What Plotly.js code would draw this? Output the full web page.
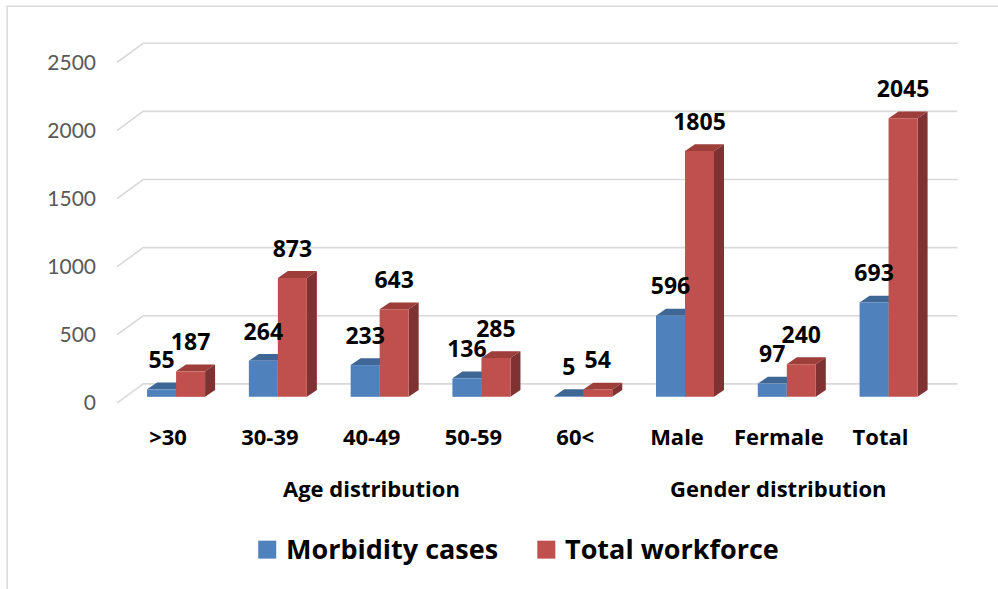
<!DOCTYPE html>
<html>
<head>
<meta charset="utf-8">
<script src="https://cdn.plot.ly/plotly-3.0.1.min.js"></script>
<style>html,body{margin:0;padding:0;background:#fff;}#chart{width:998px;height:589px;}</style>
</head>
<body>
<div id="chart"></div>
<script>
// ---- data ----
const categories = ['>30', '30-39', '40-49', '50-59', '60<', 'Male', 'Fermale', 'Total'];
const morbidity = [55, 264, 233, 136, 5, 596, 97, 693];
const workforce = [187, 873, 643, 285, 54, 1805, 240, 2045];
const seriesNames = ['Morbidity cases', 'Total workforce'];
const groupLabels = ['Age distribution', 'Gender distribution'];
const groupStart = [0, 5];
const groupEnd = [4, 7];
const yTicks = [0, 500, 1000, 1500, 2000, 2500];

// ---- geometry / style ----
const W = 998, H = 589;
const PXC = 101.75;      // px per category
const PXU = 0.1364;      // px per value unit
const xr = [-0.6, 7.8], yr = [-60, 2700];
const ml = 117 - (-0.5 - xr[0]) * PXC;
const pw = (xr[1] - xr[0]) * PXC;
const mr = W - ml - pw;
const mt = 403 - yr[1] * PXU;
const ph = (yr[1] - yr[0]) * PXU;
const mb = H - mt - ph;
const px2x = p => (p - ml) / pw;
const px2y = p => (mt + ph - p) / ph;

const blue = '#4F81BD', blueTop = '#3F6796', blueSide = '#385D8A';
const red = '#C0504D', redTop = '#9E3E3B', redSide = '#7F3231';
const grid = '#D9D9D9';

const shift = 8 / PXC, bw = 29 / PXC, base = 6 / PXU;
const dx = 10 / PXC, dy = 6.8 / PXU;
const bx = 26 / PXC, by = 19 / PXU;
const labelOff = 27 / PXU;

const idx = categories.map((_, i) => i);
const xBlue = idx.map(i => i + shift - bw / 2);
const xRed = idx.map(i => i + shift + bw / 2);

const shapes = [];
// outer frame
shapes.push({type: 'rect', xref: 'paper', yref: 'paper', x0: px2x(7), x1: px2x(1010), y0: px2y(6), y1: px2y(620),
  line: {color: grid, width: 1.5}, fillcolor: 'rgba(0,0,0,0)', layer: 'below'});
// back-plane gridlines with diagonal side wall
yTicks.forEach(v => {
  shapes.push({type: 'path', xref: 'x', yref: 'y', layer: 'below',
    path: `M${-0.5},${v} L${-0.5 + bx},${v + by} L${7.5 + bx},${v + by}`,
    line: {color: grid, width: 1.6}});
});
// 3D faces of bars
function faces(xs, vals, topC, sideC) {
  xs.forEach((xc, i) => {
    const x0 = xc - bw / 2, x1 = xc + bw / 2, t = base + vals[i];
    shapes.push({type: 'path', xref: 'x', yref: 'y', layer: 'below',
      path: `M${x0},${t} L${x1},${t} L${x1 + dx},${t + dy} L${x0 + dx},${t + dy} Z`,
      fillcolor: topC, line: {width: 0}});
    shapes.push({type: 'path', xref: 'x', yref: 'y', layer: 'below',
      path: `M${x1},${base} L${x1},${t} L${x1 + dx},${t + dy} L${x1 + dx},${base + dy} Z`,
      fillcolor: sideC, line: {width: 0}});
  });
}
faces(xBlue, morbidity, blueTop, blueSide);
faces(xRed, workforce, redTop, redSide);

const FB = '"Open Sans", Lato, sans-serif';
const labelFont = {family: FB, size: 23, color: '#000', weight: 'bold'};

const traces = [
  {type: 'bar', x: xBlue, y: morbidity, base: base, width: bw, marker: {color: blue}, name: seriesNames[0], hoverinfo: 'skip'},
  {type: 'bar', x: xRed, y: workforce, base: base, width: bw, marker: {color: red}, name: seriesNames[1], hoverinfo: 'skip'},
  {type: 'scatter', mode: 'text', x: xBlue, y: morbidity.map(v => v + base + labelOff), text: morbidity.map(String),
    textposition: 'middle center', textfont: labelFont, cliponaxis: false, hoverinfo: 'skip'},
  {type: 'scatter', mode: 'text', x: xRed, y: workforce.map(v => v + base + labelOff), text: workforce.map(String),
    textposition: 'middle center', textfont: labelFont, cliponaxis: false, hoverinfo: 'skip'}
];

const annotations = groupLabels.map((g, k) => ({
  text: '<b>' + g + '</b>', xref: 'x', yref: 'paper', x: (groupStart[k] + groupEnd[k]) / 2,
  y: px2y(488), showarrow: false, xanchor: 'center', yanchor: 'middle',
  font: {family: FB, size: 22, color: '#000'}
}));
// custom legend
const legendItems = [{sq: 258, tx: 284, c: blue}, {sq: 537, tx: 563, c: red}];
legendItems.forEach((it, k) => {
  shapes.push({type: 'rect', xref: 'paper', yref: 'paper', x0: px2x(it.sq), x1: px2x(it.sq + 18),
    y0: px2y(559), y1: px2y(541), fillcolor: it.c, line: {width: 0}});
  annotations.push({text: '<b>' + seriesNames[k] + '</b>', xref: 'paper', yref: 'paper', x: px2x(it.tx), y: px2y(549),
    xanchor: 'left', yanchor: 'middle', showarrow: false,
    font: {family: FB, size: 27, color: '#000'}});
});

const layout = {
  width: W, height: H,
  margin: {l: ml, r: mr, t: mt, b: mb, pad: 0},
  paper_bgcolor: '#fff', plot_bgcolor: 'rgba(0,0,0,0)',
  showlegend: false,
  barmode: 'overlay',
  xaxis: {range: xr, tickmode: 'array', tickvals: idx, ticktext: categories, showgrid: false, zeroline: false,
    showline: false, ticks: '', ticklabelstandoff: 11,
    tickfont: {family: FB, size: 22, color: '#000', weight: 'bold'}, fixedrange: true},
  yaxis: {range: yr, tickmode: 'array', tickvals: yTicks, showgrid: false, zeroline: false, showline: false,
    ticks: '', ticklabelstandoff: 10,
    tickfont: {family: 'Lato, "Noto Sans", sans-serif', size: 21, color: '#595959'}, fixedrange: true},
  shapes: shapes,
  annotations: annotations
};

Plotly.newPlot('chart', traces, layout, {staticPlot: true, displayModeBar: false});
</script>
</body>
</html>
